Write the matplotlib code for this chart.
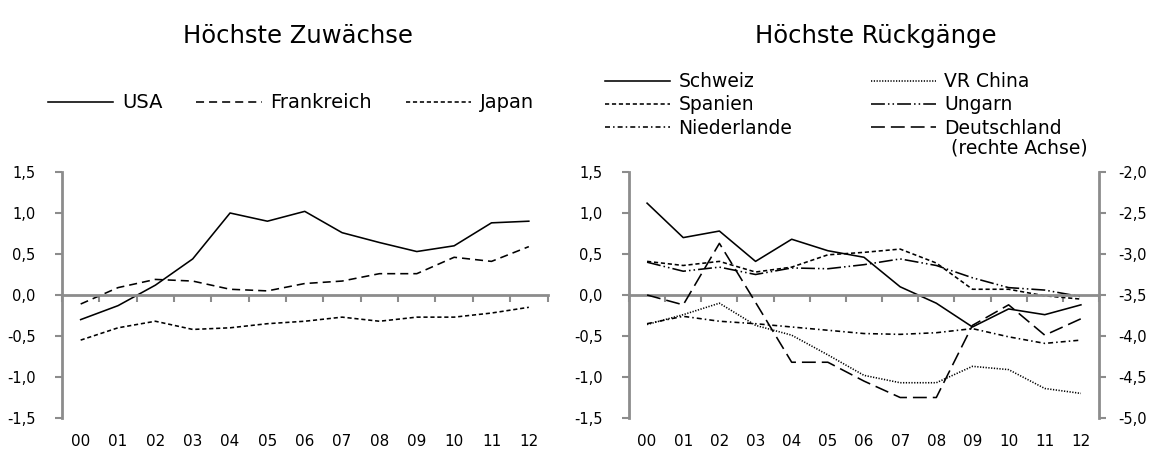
import matplotlib.pyplot as plt
import numpy as np
from matplotlib.lines import Line2D
from matplotlib.ticker import FuncFormatter, MultipleLocator, FixedLocator

plt.rcParams["font.family"] = ["DejaVu Sans"]
plt.rcParams["lines.scale_dashes"] = False

years = ["00", "01", "02", "03", "04", "05", "06", "07", "08", "09", "10", "11", "12"]

# Höchste Zuwächse
usa = [-0.30, -0.13, 0.12, 0.44, 1.00, 0.90, 1.02, 0.76, 0.64, 0.53, 0.60, 0.88, 0.90]
frankreich = [-0.11, 0.09, 0.19, 0.17, 0.07, 0.05, 0.14, 0.17, 0.26, 0.26, 0.46, 0.41, 0.59]
japan = [-0.55, -0.40, -0.32, -0.42, -0.40, -0.35, -0.32, -0.27, -0.32, -0.27, -0.27, -0.22, -0.15]

# Höchste Rückgänge
schweiz = [1.12, 0.70, 0.78, 0.41, 0.68, 0.54, 0.46, 0.10, -0.10, -0.39, -0.17, -0.24, -0.12]
spanien = [0.41, 0.36, 0.41, 0.28, 0.34, 0.49, 0.52, 0.56, 0.39, 0.07, 0.07, -0.01, -0.05]
niederlande = [-0.35, -0.26, -0.32, -0.35, -0.39, -0.43, -0.47, -0.48, -0.46, -0.41, -0.51, -0.59, -0.55]
vr_china = [-0.36, -0.24, -0.10, -0.37, -0.49, -0.73, -0.98, -1.07, -1.07, -0.87, -0.91, -1.14, -1.20]
ungarn = [0.40, 0.29, 0.34, 0.25, 0.33, 0.32, 0.37, 0.44, 0.36, 0.21, 0.09, 0.06, -0.02]
deutschland = [-3.50, -3.62, -2.87, -3.59, -4.32, -4.32, -4.55, -4.75, -4.75, -3.87, -3.62, -3.99, -3.79]

GRAY = "#8c8c8c"
LW = 1.15
styles = {
    "solid": "-",
    "frank": (0, (5.8, 3.6)),
    "short": (0, (3.0, 2.0)),
    "dot": (0, (0.9, 1.1)),
    "dashdotdot": (0, (10, 2.2, 1.1, 2.2, 1.1, 2.2)),
    "dashdot": (0, (3.6, 2.2, 1.1, 2.2)),
    "long": (0, (10, 4.3)),
}

comma = FuncFormatter(lambda v, p: f"{v:.1f}".replace(".", ","))

fig = plt.figure(figsize=(11.54, 4.62), dpi=100)
ax1 = fig.add_axes([62 / 1154, 1 - 418 / 462, 485.5 / 1154, 246 / 462])
ax2 = fig.add_axes([629 / 1154, 1 - 418 / 462, 470 / 1154, 246 / 462])

x = np.arange(len(years))


def style_axis(ax):
    ax.set_xlim(-0.5, len(years) - 0.5)
    ax.set_ylim(-1.5, 1.5)
    ax.yaxis.set_major_locator(MultipleLocator(0.5))
    ax.yaxis.set_major_formatter(comma)
    for s in ["top", "right"]:
        ax.spines[s].set_visible(False)
    ax.spines["left"].set_color(GRAY)
    ax.spines["left"].set_linewidth(2)
    ax.spines["bottom"].set_position(("data", 0))
    ax.spines["bottom"].set_color(GRAY)
    ax.spines["bottom"].set_linewidth(2)
    ax.tick_params(axis="y", length=5, width=1.5, color=GRAY, labelsize=10.5, pad=14)
    ax.set_xticks(x)
    ax.set_xticklabels(years)
    ax.tick_params(axis="x", which="major", length=0, labelsize=11, pad=100)
    ax.xaxis.set_minor_locator(FixedLocator(np.arange(-0.5, len(years), 1.0)))
    ax.tick_params(axis="x", which="minor", length=5, width=1.5, color=GRAY)
    ax.set_facecolor("none")


style_axis(ax1)
ax1.plot(x, usa, color="black", lw=LW, ls=styles["solid"], label="USA")
ax1.plot(x, frankreich, color="black", lw=LW, ls=styles["frank"], label="Frankreich")
ax1.plot(x, japan, color="black", lw=LW, ls=styles["short"], label="Japan")

style_axis(ax2)
ax2.plot(x, schweiz, color="black", lw=LW, ls=styles["solid"])
ax2.plot(x, spanien, color="black", lw=LW, ls=styles["short"])
ax2.plot(x, niederlande, color="black", lw=LW, ls=styles["dashdot"])
ax2.plot(x, vr_china, color="black", lw=LW, ls=styles["dot"])
ax2.plot(x, ungarn, color="black", lw=LW, ls=styles["dashdotdot"])

ax3 = ax2.twinx()
ax3.set_ylim(-5.0, -2.0)
ax3.yaxis.set_major_locator(MultipleLocator(0.5))
ax3.yaxis.set_major_formatter(comma)
for s in ["top", "left", "bottom"]:
    ax3.spines[s].set_visible(False)
ax3.spines["right"].set_color(GRAY)
ax3.spines["right"].set_linewidth(2)
ax3.tick_params(axis="y", length=5, width=1.5, color=GRAY, labelsize=10.5, pad=9)
ax3.plot(x, deutschland, color="black", lw=LW, ls=styles["long"])

fig.text(298 / 1154, 1 - 36 / 462, "Höchste Zuwächse", ha="center", va="center", fontsize=17.5)
fig.text(876 / 1154, 1 - 36 / 462, "Höchste Rückgänge", ha="center", va="center", fontsize=17.5)

h1 = [Line2D([], [], color="black", lw=LW, ls=styles[k]) for k in ["solid", "frank", "short"]]
fig.legend(h1, ["USA", "Frankreich", "Japan"], loc="center", bbox_to_anchor=(291 / 1154, 1 - 103 / 462),
           ncol=3, frameon=False, fontsize=14, handlelength=3.35, handletextpad=0.45,
           columnspacing=1.75, borderpad=0)

h2 = [Line2D([], [], color="black", lw=LW, ls=styles[k])
      for k in ["solid", "short", "dashdot", "dot", "dashdotdot", "long"]]
fig.legend(h2, ["Schweiz", "Spanien", "Niederlande", "VR China", "Ungarn", "Deutschland"],
           loc="upper left", bbox_to_anchor=(596 / 1154, 1 - 63 / 462), ncol=2, frameon=False,
           fontsize=13.5, handlelength=3.45, handletextpad=0.45, columnspacing=4.2,
           labelspacing=0.22, borderpad=0)
fig.text(1088 / 1154, 1 - 148 / 462, "(rechte Achse)", ha="right", va="center", fontsize=13.5)

fig.savefig("out.png", dpi=100)
